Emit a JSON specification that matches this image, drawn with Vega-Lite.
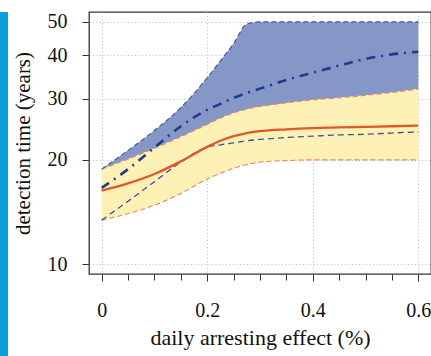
{
  "$schema": "https://vega.github.io/schema/vega-lite/v6.json",
  "background": "white",
  "padding": {"left": 0, "top": 0, "right": 0, "bottom": 0},
  "spacing": 3,
  "config": {
    "font": "Liberation Serif",
    "axis": {
      "labelFont": "Liberation Serif",
      "titleFont": "Liberation Serif",
      "labelFontSize": 20,
      "titleFontSize": 21,
      "titleFontWeight": "normal",
      "labelColor": "#111",
      "titleColor": "#111",
      "domain": false,
      "tickColor": "#333",
      "tickWidth": 1,
      "gridColor": "#bdbdbd",
      "gridDash": [1, 2.5],
      "gridWidth": 1
    },
    "title": {"font": "Liberation Serif", "color": "white"}
  },
  "hconcat": [
    {
      "width": 8,
      "height": 348,
      "view": {"fill": "#0BA0DB", "stroke": null},
      "data": {"values": [{}]},
      "mark": {"type": "point", "opacity": 0}
    },
    {
      "width": 342,
      "height": 262,
      "title": {"text": " ", "fontSize": 2, "offset": 9},
      "view": {"stroke": "#333", "strokeWidth": 1.3},
      "data": {
        "values": [
          {"x": 0.0, "lo": 13.4, "hi": 18.8, "med": 16.3, "blo": 13.4, "bhi": 18.8, "bmed": 16.6},
          {"x": 0.05, "lo": 14.0, "hi": 20.1, "med": 17.1, "blo": 15.2, "bhi": 21.3, "bmed": 18.8},
          {"x": 0.1, "lo": 14.8, "hi": 21.6, "med": 18.2, "blo": 17.3, "bhi": 24.3, "bmed": 21.7},
          {"x": 0.15, "lo": 16.0, "hi": 23.3, "med": 19.8, "blo": 19.7, "bhi": 28.3, "bmed": 25.0},
          {"x": 0.2, "lo": 17.6, "hi": 25.3, "med": 21.8, "blo": 21.8, "bhi": 34.5, "bmed": 27.9},
          {"x": 0.225, "lo": 18.3, "hi": 26.4, "med": 22.7, "blo": 22.1, "bhi": 38.6, "bmed": 29.0},
          {"x": 0.25, "lo": 18.9, "hi": 27.3, "med": 23.4, "blo": 22.4, "bhi": 43.3, "bmed": 30.2},
          {"x": 0.275, "lo": 19.4, "hi": 28.0, "med": 23.9, "blo": 22.7, "bhi": 49.3, "bmed": 31.2},
          {"x": 0.3, "lo": 19.7, "hi": 28.5, "med": 24.2, "blo": 22.9, "bhi": 50, "bmed": 32.1},
          {"x": 0.35, "lo": 19.9, "hi": 29.2, "med": 24.5, "blo": 23.2, "bhi": 50, "bmed": 34.0},
          {"x": 0.4, "lo": 20.0, "hi": 29.8, "med": 24.7, "blo": 23.4, "bhi": 50, "bmed": 35.7},
          {"x": 0.45, "lo": 20.0, "hi": 30.2, "med": 24.8, "blo": 23.6, "bhi": 50, "bmed": 37.4},
          {"x": 0.5, "lo": 20.0, "hi": 30.7, "med": 24.9, "blo": 23.7, "bhi": 50, "bmed": 39.1},
          {"x": 0.55, "lo": 20.0, "hi": 31.3, "med": 25.0, "blo": 23.9, "bhi": 50, "bmed": 40.3},
          {"x": 0.6, "lo": 20.0, "hi": 32.0, "med": 25.1, "blo": 24.1, "bhi": 50, "bmed": 41.0}
        ]
      },
      "encoding": {
        "x": {
          "field": "x",
          "type": "quantitative",
          "scale": {"domain": [-0.024, 0.624], "nice": false, "zero": false},
          "axis": {
            "title": "daily arresting effect (%)",
            "titleFontSize": 22,
            "values": [0, 0.05, 0.1, 0.15, 0.2, 0.25, 0.3, 0.35, 0.4, 0.45, 0.5, 0.55, 0.6],
            "labelExpr": "abs(datum.value*5 - round(datum.value*5)) < 0.001 ? (datum.value == 0 ? '0' : format(datum.value, '.1f')) : ''",
            "labelOverlap": false,
            "labelFlush": false,
            "labelBound": false,
            "tickSize": {"condition": {"test": "abs(datum.value*5 - round(datum.value*5)) < 0.001", "value": 7}, "value": 6},
            "gridOpacity": {"condition": {"test": "abs(datum.value*5 - round(datum.value*5)) < 0.001", "value": 1}, "value": 0},
            "labelPadding": 19,
            "titlePadding": 7
          }
        }
      },
      "layer": [
        {
          "mark": {"type": "area", "color": "#8597C6", "opacity": 1, "interpolate": "monotone"},
          "encoding": {
            "y": {
              "field": "hi",
              "type": "quantitative",
              "title": "detection time (years)",
              "scale": {"type": "log", "domain": [9.37, 53.4], "nice": false},
              "axis": {
                "title": "detection time (years)",
                "values": [10, 20, 30, 40, 50],
                "tickSize": 7,
                "labelPadding": 15,
                "titlePadding": 14
              }
            },
            "y2": {"field": "bhi"}
          }
        },
        {
          "mark": {"type": "area", "color": "#FEF1B5", "opacity": 1, "interpolate": "monotone"},
          "encoding": {"y": {"field": "lo", "type": "quantitative", "title": "detection time (years)"}, "y2": {"field": "hi"}}
        },
        {
          "mark": {"type": "line", "color": "#E8845A", "strokeWidth": 1.1, "strokeDash": [5, 3], "interpolate": "monotone"},
          "encoding": {"y": {"field": "lo", "type": "quantitative", "title": "detection time (years)"}}
        },
        {
          "mark": {"type": "line", "color": "#E8845A", "strokeWidth": 1.1, "strokeDash": [5, 3], "interpolate": "monotone"},
          "encoding": {"y": {"field": "hi", "type": "quantitative", "title": "detection time (years)"}}
        },
        {
          "mark": {"type": "line", "color": "#3E52A0", "strokeWidth": 1.1, "strokeDash": [5, 3], "interpolate": "monotone"},
          "encoding": {"y": {"field": "bhi", "type": "quantitative", "title": "detection time (years)"}}
        },
        {
          "mark": {"type": "line", "color": "#3E5298", "strokeWidth": 1.3, "strokeDash": [6, 4], "interpolate": "monotone"},
          "encoding": {"y": {"field": "blo", "type": "quantitative", "title": "detection time (years)"}}
        },
        {
          "mark": {"type": "line", "color": "#E0572A", "strokeWidth": 2.3, "interpolate": "monotone"},
          "encoding": {"y": {"field": "med", "type": "quantitative", "title": "detection time (years)"}}
        },
        {
          "mark": {"type": "line", "color": "#1F3A8F", "strokeWidth": 2.6, "strokeDash": [9, 6, 2, 6], "interpolate": "monotone"},
          "encoding": {"y": {"field": "bmed", "type": "quantitative", "title": "detection time (years)"}}
        }
      ]
    }
  ]
}
